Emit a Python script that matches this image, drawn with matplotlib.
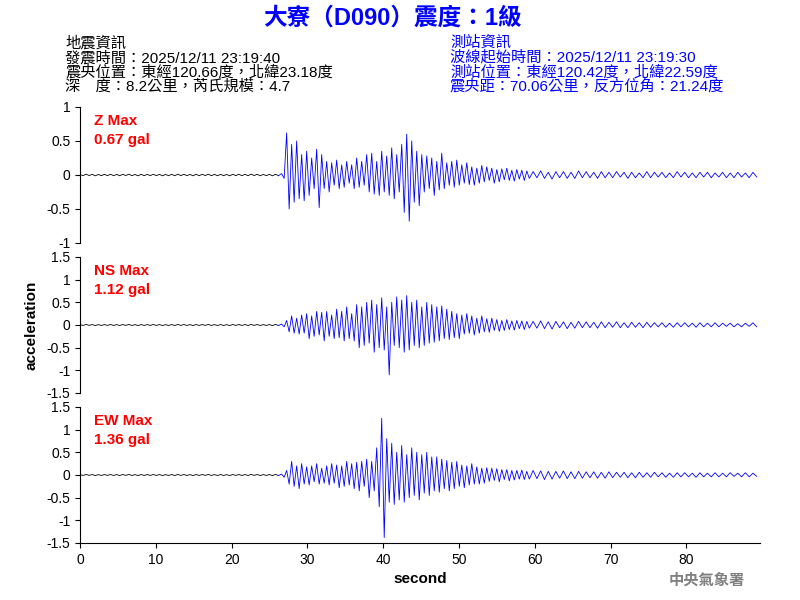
import matplotlib
matplotlib.use("Agg")
import matplotlib.pyplot as plt
import numpy as np

plt.rcParams['font.family'] = ['Arial', 'Liberation Sans', 'Noto Sans CJK TC', 'DejaVu Sans']

quiet = [0.01,-0.01,0.012,-0.008,0.01,-0.012,0.008,-0.01,0.01,-0.009,0.011,-0.01,0.009,-0.011,0.01,-0.008,
         0.012,-0.01,0.008,-0.012,0.01,-0.01,0.009,-0.009,0.011,-0.01,0.01,-0.012,0.008,-0.01,0.01,-0.011,
         0.012,-0.009,0.01,-0.01,0.009,-0.012,0.011,-0.01,0.01,-0.008,0.012,-0.01,0.009,-0.011,0.01,-0.01,
         0.008,-0.012,0.01,-0.009,0.011,-0.01,0.01,-0.01,0.012,-0.008,0.01,-0.011,0.009,-0.01,0.01,-0.012,0.011,-0.01]

z_active = [0.02,-0.05,0.62,-0.5,0.45,-0.4,0.5,-0.35,0.3,-0.38,0.35,-0.3,0.25,-0.2,0.38,-0.48,0.3,-0.2,0.2,-0.25,
            0.18,-0.15,0.22,-0.2,0.15,-0.18,0.2,-0.12,0.15,-0.2,0.25,-0.18,0.2,-0.15,0.3,-0.25,0.32,-0.28,0.2,-0.3,
            0.35,-0.25,0.28,-0.3,0.4,-0.35,0.3,-0.25,0.45,-0.55,0.6,-0.68,0.5,-0.4,0.35,-0.45,0.3,-0.25,0.28,-0.2,
            0.25,-0.3,0.2,-0.22,0.32,-0.2,0.18,-0.15,0.2,-0.18,0.22,-0.15,0.15,-0.12,0.18,-0.14,0.12,-0.15,0.1,-0.12,
            0.14,-0.1,0.12,-0.08,0.1,-0.12,0.08,-0.1,0.09,-0.07,0.1,-0.08,0.07,-0.09,0.08,-0.06,0.07,-0.08,0.06,-0.05]
ns_active = [0.02,-0.04,0.1,-0.15,0.2,-0.18,0.15,-0.2,0.22,-0.18,0.25,-0.3,0.2,-0.25,0.3,-0.22,0.28,-0.35,0.3,-0.25,
             0.22,-0.3,0.35,-0.28,0.3,-0.35,0.4,-0.3,0.25,-0.35,0.45,-0.5,0.4,-0.45,0.5,-0.4,0.55,-0.6,0.45,-0.5,
             0.6,-0.55,0.4,-1.1,0.5,-0.45,0.62,-0.5,0.55,-0.6,0.65,-0.55,0.5,-0.45,0.55,-0.5,0.4,-0.45,0.5,-0.4,
             0.45,-0.38,0.4,-0.35,0.42,-0.3,0.35,-0.32,0.3,-0.28,0.25,-0.3,0.22,-0.2,0.25,-0.18,0.2,-0.22,0.15,-0.18,
             0.2,-0.15,0.14,-0.16,0.15,-0.12,0.12,-0.14,0.1,-0.12,0.12,-0.1,0.09,-0.11,0.1,-0.08,0.09,-0.1,0.08,-0.07]
ew_active = [0.02,-0.05,0.1,-0.2,0.3,-0.25,0.2,-0.3,0.25,-0.2,0.18,-0.22,0.2,-0.15,0.25,-0.2,0.15,-0.18,0.2,-0.22,
             0.25,-0.18,0.22,-0.28,0.2,-0.25,0.3,-0.22,0.25,-0.3,0.28,-0.35,0.3,-0.25,0.35,-0.5,0.3,-0.35,0.6,-0.7,
             1.25,-1.38,0.8,-0.6,0.7,-0.65,0.5,-0.55,0.65,-0.6,0.45,-0.5,0.6,-0.45,0.5,-0.55,0.45,-0.4,0.5,-0.45,
             0.4,-0.35,0.4,-0.38,0.35,-0.3,0.32,-0.35,0.28,-0.3,0.3,-0.25,0.22,-0.28,0.2,-0.22,0.25,-0.2,0.18,-0.2,
             0.15,-0.18,0.16,-0.14,0.15,-0.12,0.14,-0.15,0.12,-0.1,0.12,-0.13,0.1,-0.11,0.1,-0.09,0.11,-0.1,0.08,-0.09]
tail_z = [0.05,-0.04,0.06,-0.05,0.04,-0.06,0.05,-0.04,0.05,-0.05,0.04,-0.05,0.06,-0.04,0.05,-0.04,0.04,-0.05,0.05,-0.04,
          0.04,-0.04,0.05,-0.03,0.04,-0.05,0.04,-0.04,0.03,-0.04,0.05,-0.04,0.04,-0.03,0.04,-0.04,0.03,-0.04,0.05,-0.03,
          0.04,-0.04,0.03,-0.04,0.04,-0.03,0.04,-0.04,0.03,-0.03,0.04,-0.04,0.03,-0.04,0.04,-0.03,0.03,-0.04,0.04,-0.03]
tail_ns = [0.08,-0.07,0.09,-0.08,0.07,-0.09,0.08,-0.06,0.07,-0.08,0.06,-0.07,0.08,-0.06,0.07,-0.06,0.06,-0.07,0.07,-0.06,
           0.06,-0.05,0.07,-0.06,0.05,-0.06,0.06,-0.05,0.05,-0.06,0.06,-0.05,0.05,-0.04,0.05,-0.05,0.04,-0.05,0.05,-0.04,
           0.05,-0.04,0.04,-0.05,0.05,-0.04,0.04,-0.04,0.05,-0.04,0.04,-0.03,0.04,-0.04,0.03,-0.04,0.04,-0.03,0.05,-0.04]
tail_ew = [0.1,-0.08,0.09,-0.1,0.08,-0.09,0.08,-0.07,0.09,-0.08,0.07,-0.08,0.08,-0.07,0.07,-0.06,0.07,-0.07,0.06,-0.07,
           0.07,-0.06,0.06,-0.05,0.06,-0.06,0.05,-0.06,0.06,-0.05,0.05,-0.05,0.06,-0.04,0.05,-0.05,0.04,-0.05,0.05,-0.04,
           0.05,-0.04,0.04,-0.05,0.05,-0.04,0.04,-0.04,0.05,-0.04,0.04,-0.04,0.05,-0.03,0.04,-0.04,0.05,-0.04,0.04,-0.03]

labels = ["Z Max\n0.67 gal", "NS Max\n1.12 gal", "EW Max\n1.36 gal"]
ylims = [1, 1.5, 1.5]
yticks = [[-1,-0.5,0,0.5,1], [-1.5,-1,-0.5,0,0.5,1,1.5], [-1.5,-1,-0.5,0,0.5,1,1.5]]
xticks = [0,10,20,30,40,50,60,70,80]
t_start, dt_active, dt_tail = 26.6, 0.33, 0.5

def build(active, tail):
    tq = np.linspace(0, t_start, len(quiet), endpoint=False)
    ta = t_start + dt_active*np.arange(len(active))
    tt = ta[-1] + dt_tail*(1+np.arange(len(tail)))
    return tq, np.array(quiet), np.concatenate([tq[-1:], ta, tt]), np.concatenate([quiet[-1:], active, tail])

fig = plt.figure(figsize=(8,6), dpi=100)
W, H = 800, 600
panels = [(107,243),(257,393),(407,543)]
traces = [(z_active, tail_z), (ns_active, tail_ns), (ew_active, tail_ew)]
for i,(top,bot) in enumerate(panels):
    ax = fig.add_axes([80/W, 1-bot/H, 680/W, (bot-top)/H])
    tq, vq, ta, va = build(*traces[i])
    ax.plot(tq, vq, color='black', lw=0.6)
    ax.plot(ta, va, color='blue', lw=0.6)
    ax.set_xlim(0, 89.7); ax.set_ylim(-ylims[i], ylims[i])
    ax.set_yticks(yticks[i]); ax.set_yticklabels([f"{y:g}" for y in yticks[i]], fontsize=10)
    for s in ['top','right']: ax.spines[s].set_visible(False)
    if i < 2:
        ax.spines['bottom'].set_visible(False); ax.set_xticks([])
    else:
        ax.set_xticks(xticks); ax.tick_params(labelsize=10)
        ax.set_xlabel("second", fontsize=11, fontweight='bold')
    ax.text(0.02, 0.95, labels[i], transform=ax.transAxes, color='red', fontsize=11,
            fontweight='bold', va='top', linespacing=1.5)
    ax.patch.set_alpha(0)

fig.text(32/W, 1-325/H, "acceleration", rotation=90, ha='center', va='center', fontsize=11, fontweight='bold')
fig.text(0.49, 1-18/H, "大寮（D090）震度：1級", color='blue', fontsize=17, fontweight='bold', ha='center', va='center')
left = "地震資訊\n發震時間：2025/12/11 23:19:40\n震央位置：東經120.66度，北緯23.18度\n深　度：8.2公里，芮氏規模：4.7"
right = "測站資訊\n波線起始時間：2025/12/11 23:19:30\n測站位置：東經120.42度，北緯22.59度\n震央距：70.06公里，反方位角：21.24度"
fig.text(65/W, 1-36/H, left, fontsize=11, va='top', linespacing=1.0)
fig.text(450/W, 1-36/H, right, fontsize=11, va='top', linespacing=1.0, color='blue')
fig.text(745/W, 1-581/H, "中央氣象署", fontsize=11, color='gray', ha='right', va='center', fontweight='bold')
fig.savefig("out.png", dpi=100)
